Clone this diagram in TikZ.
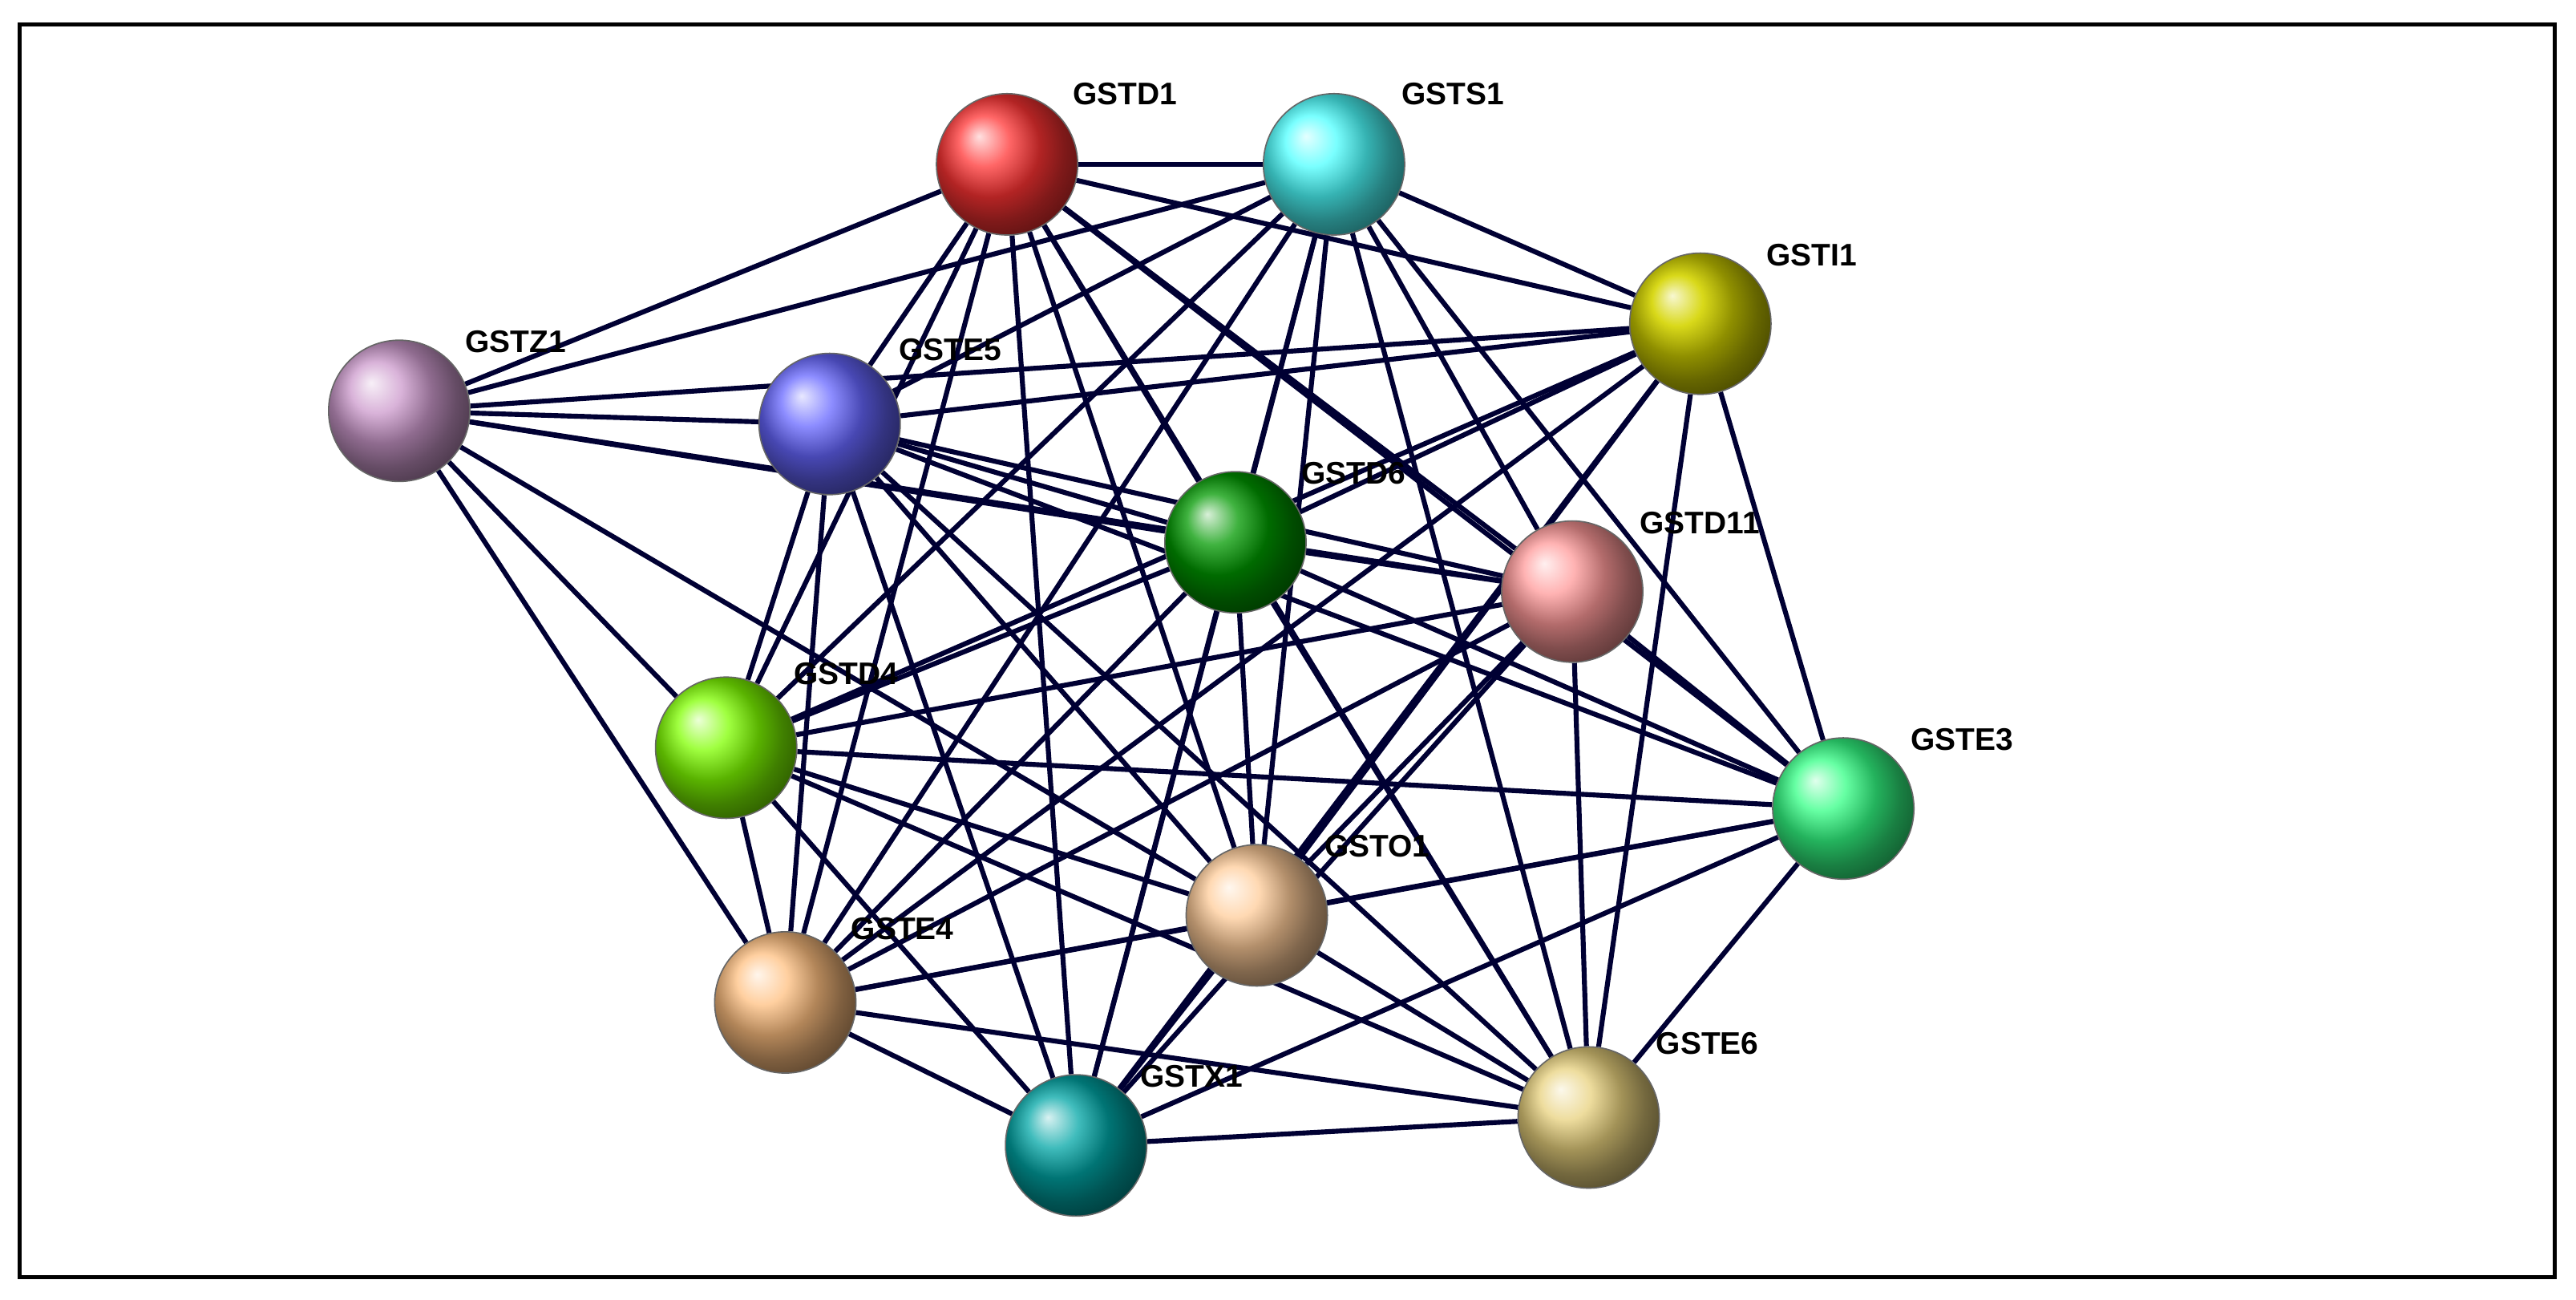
\documentclass[tikz,border=0pt]{standalone}
\usepackage{fontspec}
\setmainfont{Liberation Sans}
\begin{document}
\pgfdeclarelayer{bg}\pgfsetlayers{bg,main}
\begin{tikzpicture}[x=1pt,y=-1pt,
  ball/.style={circle,minimum size=86pt,inner sep=0pt,shading=ball,ball color=#1,draw=black!60,line width=0.8pt},
  lab/.style={font=\bfseries\fontsize{19}{19}\selectfont,anchor=west,inner sep=0pt},
  edge/.style={draw=black!80!blue,line width=3pt}]
\useasboundingbox (0,0) rectangle (1568,791);
\node[ball=red!80] (D1) at (613,100) {};
\node[ball=cyan!70] (S1) at (812,100) {};
\node[ball=yellow!60!olive] (I1) at (1035,197) {};
\node[ball=violet!40] (Z1) at (243,250) {};
\node[ball=blue!60] (E5) at (505,258) {};
\node[ball=green!60!black] (D6) at (752,330) {};
\node[ball=red!40] (D11) at (957,360) {};
\node[ball=green!50!yellow] (D4) at (442,455) {};
\node[ball=green!60!cyan!80] (E3) at (1122,492) {};
\node[ball=orange!40] (O1) at (765,557) {};
\node[ball=orange!50] (E4) at (478,610) {};
\node[ball=teal!70!cyan] (X1) at (655,697) {};
\node[ball=yellow!40!brown!60] (E6) at (967,680) {};
\begin{pgfonlayer}{bg}
\fill[white] (0,0) rectangle (1568,791);
\draw[line width=2.5pt] (12,15) rectangle (1555,777);
\foreach \a/\b in {D1/S1,D1/I1,D1/Z1,D1/E5,D1/D6,D1/D11,D1/D4,D1/E3,D1/O1,D1/E4,D1/X1,D1/E6,
 S1/I1,S1/Z1,S1/E5,S1/D6,S1/D11,S1/D4,S1/E3,S1/O1,S1/E4,S1/X1,S1/E6,
 I1/Z1,I1/E5,I1/D6,I1/D4,I1/E3,I1/O1,I1/E4,I1/X1,I1/E6,
 Z1/E5,Z1/D6,Z1/D11,Z1/D4,Z1/E4,Z1/O1,
 E5/D6,E5/D11,E5/D4,E5/E3,E5/O1,E5/E4,E5/X1,E5/E6,
 D6/D11,D6/D4,D6/E3,D6/O1,D6/E4,D6/X1,D6/E6,
 D11/D4,D11/E3,D11/O1,D11/E4,D11/X1,D11/E6,
 D4/E3,D4/O1,D4/E4,D4/X1,D4/E6,
 E3/O1,E3/E4,E3/X1,E3/E6,
 O1/E4,O1/X1,O1/E6,E4/X1,E4/E6,X1/E6}
 \draw[edge] (\a) -- (\b);
\end{pgfonlayer}
\node[lab] at (653,57) {GSTD1};
\node[lab] at (853,57) {GSTS1};
\node[lab] at (1075,155) {GSTI1};
\node[lab] at (283,208) {GSTZ1};
\node[lab] at (547,213) {GSTE5};
\node[lab] at (792,288) {GSTD6};
\node[lab] at (998,318) {GSTD11};
\node[lab] at (483,410) {GSTD4};
\node[lab] at (1163,450) {GSTE3};
\node[lab] at (806,515) {GSTO1};
\node[lab] at (518,565) {GSTE4};
\node[lab] at (694,655) {GSTX1};
\node[lab] at (1008,635) {GSTE6};
\end{tikzpicture}
\end{document}
